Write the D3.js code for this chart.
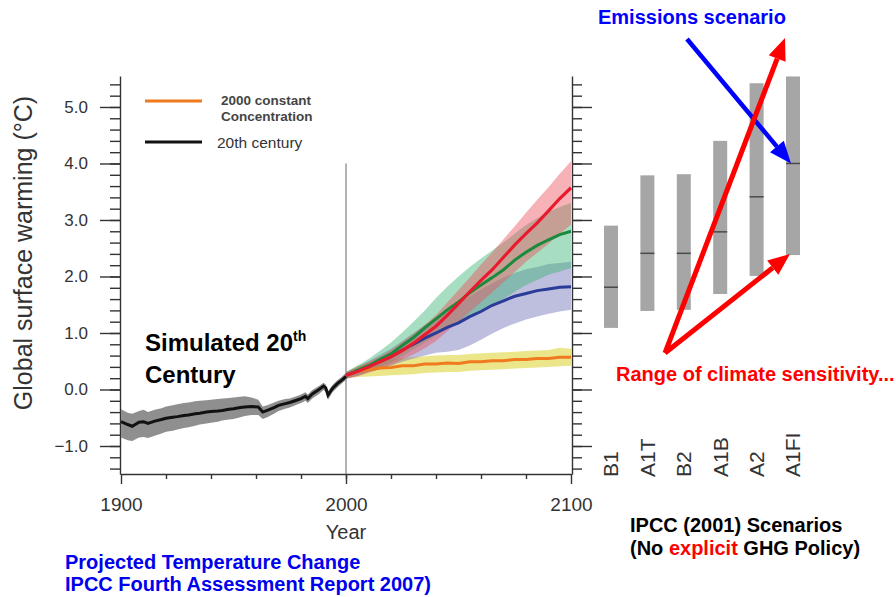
<!DOCTYPE html>
<html lang="en">
<head>
<meta charset="UTF-8">
<title>Projected temperature change</title>
<script src="https://d3js.org/d3.v7.min.js"></script>
<style>
  body { margin: 0; background: #fff; }
  svg { display: block; font-family: Arial, "Liberation Sans", sans-serif; }
</style>
</head>
<body>
<div id="chart"></div>
<script>
// 20th century simulation
var centuryYears = [1900,1903,1905,1908,1910,1912,1915,1918,1920,1923,1925,1928,1930,1933,1935,1938,1940,1943,1945,1948,1950,1953,1955,1958,1961,1963,1965,1968,1970,1973,1975,1978,1980,1982,1983,1985,1988,1990,1991,1992,1994,1996,1998,2000];
var centuryMean = [-0.57,-0.62,-0.65,-0.58,-0.57,-0.60,-0.56,-0.53,-0.51,-0.49,-0.48,-0.46,-0.45,-0.43,-0.42,-0.40,-0.39,-0.38,-0.37,-0.35,-0.34,-0.32,-0.31,-0.30,-0.31,-0.40,-0.37,-0.32,-0.28,-0.25,-0.23,-0.19,-0.16,-0.12,-0.16,-0.08,0.00,0.06,0.03,-0.10,0.02,0.10,0.16,0.23];
var centuryLow = [-0.85,-0.90,-0.91,-0.85,-0.84,-0.86,-0.82,-0.78,-0.75,-0.73,-0.71,-0.68,-0.67,-0.64,-0.62,-0.60,-0.59,-0.57,-0.55,-0.53,-0.52,-0.49,-0.47,-0.45,-0.45,-0.52,-0.49,-0.43,-0.38,-0.34,-0.32,-0.27,-0.24,-0.20,-0.24,-0.16,-0.08,-0.01,-0.04,-0.18,-0.05,0.03,0.10,0.17];
var centuryHigh = [-0.35,-0.41,-0.43,-0.38,-0.36,-0.40,-0.36,-0.33,-0.30,-0.28,-0.26,-0.24,-0.23,-0.21,-0.20,-0.19,-0.18,-0.17,-0.16,-0.15,-0.14,-0.13,-0.12,-0.14,-0.18,-0.30,-0.28,-0.23,-0.20,-0.17,-0.16,-0.12,-0.09,-0.05,-0.09,-0.01,0.06,0.12,0.09,-0.03,0.08,0.16,0.22,0.29];

// projections 2000-2100
var projYears = [2000,2005,2010,2015,2020,2025,2030,2035,2040,2045,2050,2055,2060,2065,2070,2075,2080,2085,2090,2095,2100];
var a2Mean  = [0.25,0.32,0.40,0.49,0.58,0.69,0.82,0.97,1.12,1.31,1.52,1.73,1.93,2.12,2.34,2.56,2.76,2.95,3.16,3.38,3.57];
var a2Low   = [0.19,0.23,0.30,0.36,0.44,0.53,0.62,0.73,0.86,1.03,1.20,1.37,1.55,1.72,1.90,2.08,2.26,2.42,2.58,2.75,2.92];
var a2High  = [0.31,0.39,0.49,0.58,0.70,0.84,0.98,1.14,1.32,1.54,1.76,1.98,2.21,2.43,2.66,2.89,3.13,3.36,3.58,3.82,4.04];
var a1bMean = [0.25,0.34,0.42,0.53,0.63,0.78,0.92,1.09,1.25,1.41,1.55,1.71,1.85,1.98,2.12,2.29,2.43,2.55,2.65,2.74,2.80];
var a1bLow  = [0.19,0.25,0.32,0.40,0.48,0.59,0.71,0.83,0.96,1.07,1.18,1.29,1.40,1.50,1.60,1.73,1.85,1.94,2.03,2.09,2.15];
var a1bHigh = [0.31,0.42,0.54,0.68,0.83,1.01,1.20,1.40,1.62,1.82,2.00,2.17,2.32,2.46,2.60,2.76,2.91,3.03,3.15,3.23,3.30];
var b1Mean  = [0.25,0.33,0.40,0.50,0.58,0.70,0.80,0.91,1.00,1.10,1.18,1.29,1.38,1.49,1.57,1.65,1.70,1.75,1.78,1.81,1.82];
var b1Low   = [0.19,0.24,0.30,0.36,0.42,0.49,0.55,0.60,0.65,0.67,0.70,0.78,0.88,0.99,1.09,1.17,1.24,1.29,1.34,1.38,1.41];
var b1High  = [0.31,0.40,0.50,0.61,0.72,0.86,1.00,1.14,1.28,1.41,1.53,1.65,1.77,1.88,1.98,2.06,2.13,2.17,2.22,2.24,2.26];
var commitMean = [0.25,0.32,0.35,0.38,0.39,0.42,0.42,0.45,0.45,0.47,0.46,0.49,0.49,0.51,0.51,0.53,0.53,0.55,0.55,0.57,0.57];
var commitLow  = [0.20,0.22,0.23,0.24,0.25,0.26,0.27,0.29,0.30,0.31,0.31,0.33,0.34,0.35,0.36,0.37,0.38,0.39,0.40,0.41,0.42];
var commitHigh = [0.30,0.42,0.47,0.50,0.53,0.56,0.57,0.59,0.60,0.61,0.61,0.63,0.64,0.65,0.66,0.67,0.68,0.69,0.70,0.74,0.72];

// IPCC 2001 scenario ranges
var scenarios = ["B1","A1T","B2","A1B","A2","A1FI"];
var scenLow  = [1.09,1.39,1.41,1.69,2.01,2.38];
var scenHigh = [2.90,3.79,3.81,4.40,5.42,5.54];
var scenMid  = [1.81,2.41,2.41,2.79,3.41,4.00];

var yMajor = [-1,0,1,2,3,4,5];
var xMajor = [1900,2000,2100];

var W = 896, H = 597;
var svg = d3.select("#chart").append("svg")
    .attr("width", W).attr("height", H);
svg.append("rect").attr("width", W).attr("height", H).attr("fill", "#fff");

var x = d3.scaleLinear().domain([1900, 2100]).range([121, 571]);
var y = d3.scaleLinear().domain([-1.5, 5.55]).range([474.25, 75.9]);
var xs = d3.scalePoint().domain(scenarios).range([611, 793]);

var axisColor = "#333";

function styleAxis(g, size) {
  g.attr("font-family", "Arial, 'Liberation Sans', sans-serif")
   .attr("font-size", size);
  g.selectAll("line").attr("stroke", axisColor).attr("stroke-width", 1.4);
  g.selectAll("path").attr("stroke", axisColor).attr("stroke-width", 1.4);
  g.selectAll("text").attr("fill", axisColor);
}

var minorY = d3.range(-1.4, 5.5, 0.2).map(function(v){ return Math.round(v*10)/10; });
var minorX = d3.range(1920, 2100, 20);

// left axis
var gl = svg.append("g").attr("transform", "translate(120,0)");
gl.call(d3.axisLeft(y).tickValues(minorY).tickSize(10).tickSizeOuter(0).tickFormat(""));
gl.call(styleAxis, 17);
var glm = svg.append("g").attr("transform", "translate(120,0)");
glm.call(d3.axisLeft(y).tickValues(yMajor).tickSize(20).tickSizeOuter(0).tickPadding(12).tickFormat(d3.format(".1f")));
glm.select(".domain").remove();
glm.call(styleAxis, 17);

// right axis
var gr = svg.append("g").attr("transform", "translate(572,0)");
gr.call(d3.axisRight(y).tickValues(minorY).tickSize(10).tickSizeOuter(0).tickFormat(""));
gr.call(styleAxis, 17);
var grm = svg.append("g").attr("transform", "translate(572,0)");
grm.call(d3.axisRight(y).tickValues(yMajor).tickSize(20).tickSizeOuter(0).tickFormat(""));
grm.select(".domain").remove();
grm.call(styleAxis, 17);

// bottom axis
var gb = svg.append("g").attr("transform", "translate(0,474)");
gb.call(d3.axisBottom(x).tickValues(minorX).tickSize(5).tickSizeOuter(0).tickFormat(""));
gb.call(styleAxis, 19);
var gbm = svg.append("g").attr("transform", "translate(0,474)");
gbm.call(d3.axisBottom(x).tickValues(xMajor).tickSize(10).tickSizeOuter(0).tickPadding(14).tickFormat(d3.format("d")));
gbm.select(".domain").remove();
gbm.call(styleAxis, 19);

svg.append("text").attr("x", x(2000)).attr("y", 539).attr("text-anchor", "middle")
  .attr("font-size", 20).attr("fill", axisColor).text("Year");

svg.append("text")
  .attr("transform", "translate(32,253) rotate(-90)")
  .attr("text-anchor", "middle").attr("font-size", 25).attr("fill", axisColor)
  .text("Global surface warming (°C)");

// divider at 2000
svg.append("line")
  .attr("x1", x(2000)).attr("x2", x(2000))
  .attr("y1", y(4.0)).attr("y2", y(-1.5))
  .attr("stroke", "#666").attr("stroke-width", 1);

function zipBand(years, lo, hi) {
  return years.map(function(yr, i){ return {t: yr, lo: lo[i], hi: hi[i]}; });
}
function zipLine(years, v) {
  return years.map(function(yr, i){ return {t: yr, v: v[i]}; });
}
var area = d3.area().x(function(d){ return x(d.t); })
  .y0(function(d){ return y(d.lo); }).y1(function(d){ return y(d.hi); });
var line = d3.line().x(function(d){ return x(d.t); }).y(function(d){ return y(d.v); });

// bands
svg.append("path").datum(zipBand(centuryYears, centuryLow, centuryHigh))
  .attr("d", area).attr("fill", "#8f8f8f");
svg.append("path").datum(zipBand(projYears, commitLow, commitHigh))
  .attr("d", area).attr("fill", "rgb(228,220,90)").attr("fill-opacity", 0.7);
svg.append("path").datum(zipBand(projYears, b1Low, b1High))
  .attr("d", area).attr("fill", "rgb(110,110,185)").attr("fill-opacity", 0.45);
svg.append("path").datum(zipBand(projYears, a1bLow, a1bHigh))
  .attr("d", area).attr("fill", "rgb(60,180,115)").attr("fill-opacity", 0.45);
svg.append("path").datum(zipBand(projYears, a2Low, a2High))
  .attr("d", area).attr("fill", "rgb(235,85,95)").attr("fill-opacity", 0.45);

// lines
svg.append("path").datum(zipLine(centuryYears, centuryMean))
  .attr("d", line).attr("fill", "none").attr("stroke", "#111").attr("stroke-width", 3);
svg.append("path").datum(zipLine(projYears, commitMean))
  .attr("d", line).attr("fill", "none").attr("stroke", "#f07a1e").attr("stroke-width", 3);
svg.append("path").datum(zipLine(projYears, b1Mean))
  .attr("d", line).attr("fill", "none").attr("stroke", "#2a3c98").attr("stroke-width", 3);
svg.append("path").datum(zipLine(projYears, a1bMean))
  .attr("d", line).attr("fill", "none").attr("stroke", "#1a8a3c").attr("stroke-width", 3);
svg.append("path").datum(zipLine(projYears, a2Mean))
  .attr("d", line).attr("fill", "none").attr("stroke", "#ea1a2e").attr("stroke-width", 3.2);

// legend
svg.append("line").attr("x1", 145).attr("x2", 202).attr("y1", 101).attr("y2", 101)
  .attr("stroke", "#f07a1e").attr("stroke-width", 3);
svg.append("line").attr("x1", 145).attr("x2", 202).attr("y1", 142).attr("y2", 142)
  .attr("stroke", "#111").attr("stroke-width", 3);
svg.append("text").attr("x", 221).attr("y", 105).attr("font-size", 13.5)
  .attr("font-weight", "bold").attr("fill", "#444").text("2000 constant");
svg.append("text").attr("x", 221).attr("y", 121).attr("font-size", 13.5)
  .attr("font-weight", "bold").attr("fill", "#444").text("Concentration");
svg.append("text").attr("x", 217).attr("y", 148).attr("font-size", 15.5)
  .attr("fill", "#333").text("20th century");

// simulated label
var sim = svg.append("text").attr("x", 145).attr("y", 351).attr("font-size", 24)
  .attr("font-weight", "bold").attr("fill", "#000");
sim.append("tspan").text("Simulated 20");
sim.append("tspan").attr("font-size", 14).attr("dy", -10).text("th");
svg.append("text").attr("x", 145).attr("y", 383).attr("font-size", 24)
  .attr("font-weight", "bold").attr("fill", "#000").text("Century");

// scenario bars
var bw = 14;
svg.selectAll(".scen").data(scenarios).enter().append("rect")
  .attr("class", "scen")
  .attr("x", function(d){ return xs(d) - bw/2; })
  .attr("width", bw)
  .attr("y", function(d, i){ return y(scenHigh[i]); })
  .attr("height", function(d, i){ return y(scenLow[i]) - y(scenHigh[i]); })
  .attr("fill", "#a6a6a6");
svg.selectAll(".mid").data(scenarios).enter().append("line")
  .attr("class", "mid")
  .attr("x1", function(d){ return xs(d) - bw/2; })
  .attr("x2", function(d){ return xs(d) + bw/2; })
  .attr("y1", function(d, i){ return y(scenMid[i]); })
  .attr("y2", function(d, i){ return y(scenMid[i]); })
  .attr("stroke", "#4a4a4a").attr("stroke-width", 1.5);
svg.selectAll(".scenLabel").data(scenarios).enter().append("text")
  .attr("class", "scenLabel")
  .attr("transform", function(d){ return "translate(" + xs(d) + ",477) rotate(-90)"; })
  .attr("dy", "0.35em").attr("font-size", 21).attr("fill", "#333")
  .text(function(d){ return d; });

// arrows
function arrow(x1, y1, x2, y2, color, w) {
  var ang = Math.atan2(y2 - y1, x2 - x1);
  var len = 22, half = 9;
  var bx = x2 - len * Math.cos(ang), by = y2 - len * Math.sin(ang);
  svg.append("line").attr("x1", x1).attr("y1", y1).attr("x2", bx).attr("y2", by)
    .attr("stroke", color).attr("stroke-width", w);
  var px = -Math.sin(ang) * half, py = Math.cos(ang) * half;
  svg.append("polygon")
    .attr("points", [[x2, y2], [bx + px, by + py], [bx - px, by - py]].map(function(p){ return p.join(","); }).join(" "))
    .attr("fill", color);
}
var iFI = scenarios.indexOf("A1FI");
arrow(687, 39, xs("A1FI") - 2, y(scenMid[iFI]), "#0000ff", 4.5);
arrow(665, 353, 785, 38, "#ff0000", 5);
arrow(665, 353, xs("A1FI") - 3, y(scenLow[iFI]) - 1, "#ff0000", 5);

// annotations
svg.append("text").attr("x", 598).attr("y", 24).attr("font-size", 20).attr("font-weight", "bold")
  .attr("fill", "#0000ff").text("Emissions scenario");
svg.append("text").attr("x", 616).attr("y", 381).attr("font-size", 20).attr("font-weight", "bold")
  .attr("fill", "#ff0000").text("Range of climate sensitivity...");

svg.append("text").attr("x", 65).attr("y", 569).attr("font-size", 20).attr("font-weight", "bold")
  .attr("fill", "#0000ee").text("Projected Temperature Change");
svg.append("text").attr("x", 65).attr("y", 591).attr("font-size", 20).attr("font-weight", "bold")
  .attr("fill", "#0000ee").text("IPCC Fourth Assessment Report 2007)");

svg.append("text").attr("x", 630).attr("y", 532).attr("font-size", 20).attr("font-weight", "bold")
  .attr("fill", "#000").text("IPCC (2001) Scenarios");
var pol = svg.append("text").attr("x", 630).attr("y", 555).attr("font-size", 20).attr("font-weight", "bold")
  .attr("fill", "#000");
pol.append("tspan").text("(No ");
pol.append("tspan").attr("fill", "#ff0000").text("explicit");
pol.append("tspan").text(" GHG Policy)");
</script>
</body>
</html>
